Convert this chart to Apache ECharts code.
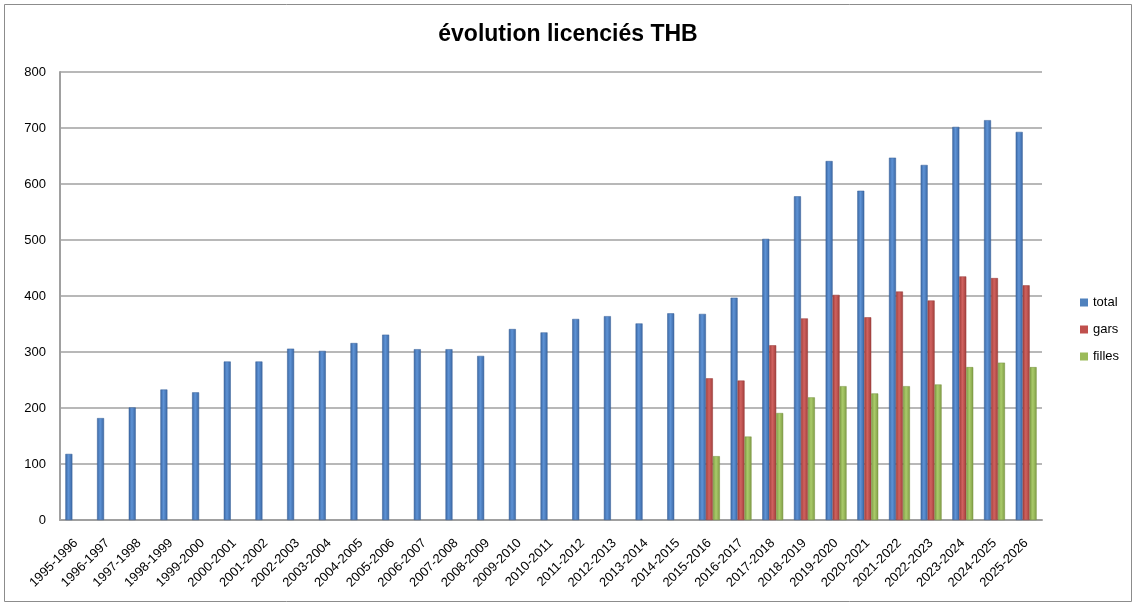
<!DOCTYPE html>
<html>
<head>
<meta charset="utf-8">
<script src="https://cdn.jsdelivr.net/npm/echarts@6/dist/echarts.min.js"></script>
<style>
html,body{margin:0;padding:0;background:#fff;}
#c{width:1136px;height:607px;}
</style>
</head>
<body>
<div id="c"></div>
<script>
const categories = ["1995-1996","1996-1997","1997-1998","1998-1999","1999-2000","2000-2001","2001-2002","2002-2003","2003-2004","2004-2005","2005-2006","2006-2007","2007-2008","2008-2009","2009-2010","2010-2011","2011-2012","2012-2013","2013-2014","2014-2015","2015-2016","2016-2017","2017-2018","2018-2019","2019-2020","2020-2021","2021-2022","2022-2023","2023-2024","2024-2025","2025-2026"];
const total = [118,182,201,233,228,283,283,306,302,316,331,305,305,293,341,335,359,364,351,369,368,397,502,578,641,588,647,634,702,714,693];
const gars = [null,null,null,null,null,null,null,null,null,null,null,null,null,null,null,null,null,null,null,null,253,249,312,360,402,362,408,392,435,432,419];
const filles = [null,null,null,null,null,null,null,null,null,null,null,null,null,null,null,null,null,null,null,null,114,149,191,219,239,226,239,242,273,281,273];
const yTicks = [0,100,200,300,400,500,600,700,800];

function grad(edge, mid){
  return new echarts.graphic.LinearGradient(0,0,1,0,[
    {offset:0,color:edge},{offset:0.45,color:mid},{offset:1,color:edge}
  ]);
}
const chart = echarts.init(document.getElementById('c'));
const font = '"Liberation Sans", Arial, sans-serif';
chart.setOption({
  animation:false,
  backgroundColor:'#fff',
  title:{
    text:'évolution licenciés THB',
    left:'center', top:18,
    textStyle:{fontFamily:'"Liberation Sans", sans-serif',fontSize:23,fontWeight:'bold',color:'#000'}
  },
  legend:{
    orient:'vertical', left:1075, top:291,
    itemWidth:8, itemHeight:8, itemGap:14,
    icon:'rect',
    textStyle:{fontFamily:font,fontSize:13,color:'#000'},
    data:[
      {name:'total',itemStyle:{color:'#4f81bd',borderWidth:0}},
      {name:'gars',itemStyle:{color:'#c0504d',borderWidth:0}},
      {name:'filles',itemStyle:{color:'#9bbb59',borderWidth:0}}
    ]
  },
  grid:{left:60,right:94,top:72,bottom:87,containLabel:false},
  xAxis:{
    type:'category', data:categories,
    axisLine:{lineStyle:{color:'#a0a0a0',width:2}},
    axisTick:{show:false},
    axisLabel:{rotate:45,interval:0,fontFamily:font,fontSize:13,color:'#000',margin:21}
  },
  yAxis:{
    type:'value', min:yTicks[0], max:yTicks[yTicks.length-1], interval:100,
    axisLine:{show:true,lineStyle:{color:'#a0a0a0',width:2}},
    axisTick:{show:false},
    splitLine:{lineStyle:{color:'#a0a0a0',width:1.5}},
    axisLabel:{fontFamily:font,fontSize:13,color:'#000',margin:14}
  },
  graphic:[{type:'rect',shape:{x:4.5,y:4.5,width:1127,height:597},style:{fill:'none',stroke:'#8c8c8c',lineWidth:1},silent:true}],
  series:[
    {name:'total',type:'bar',data:total,barGap:'0%',barCategoryGap:'34%',
     itemStyle:{color:grad('#3b67a3','#5e93d6'),borderColor:'#365f96',borderWidth:0.5}},
    {name:'gars',type:'bar',data:gars,
     itemStyle:{color:grad('#a13e3b','#d0625f'),borderColor:'#963b38',borderWidth:0.5}},
    {name:'filles',type:'bar',data:filles,
     itemStyle:{color:grad('#7f9c45','#aacb6a'),borderColor:'#76913f',borderWidth:0.5}}
  ]
});
</script>
</body>
</html>
